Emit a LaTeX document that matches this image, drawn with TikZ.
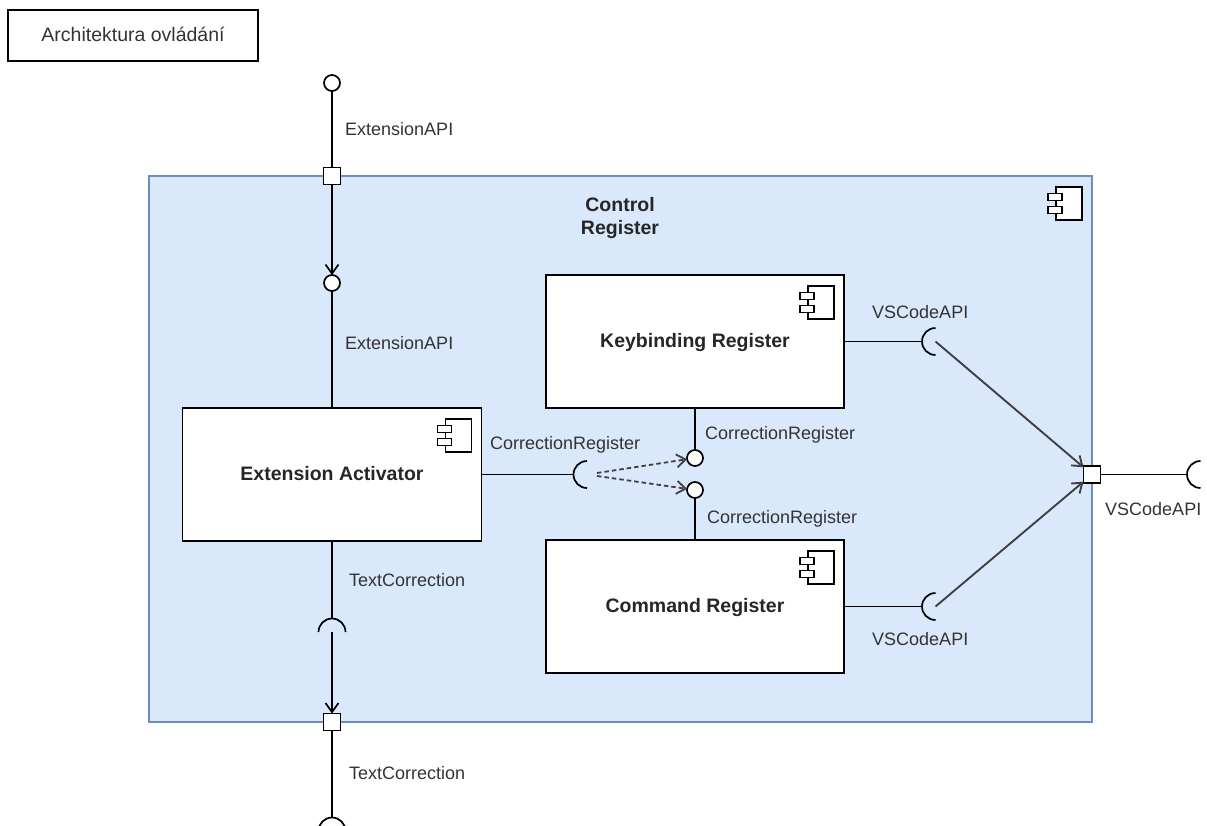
\documentclass[tikz,border=0pt]{standalone}
\usepackage{fontspec}
\setmainfont{Liberation Sans}
\usetikzlibrary{arrows.meta}

\definecolor{regfill}{HTML}{DAE8FC}
\definecolor{regline}{HTML}{6C8EBF}

\tikzset{
  lbl/.style={anchor=base west, inner sep=0pt, text=black!80,
    font=\fontsize{18}{21}\selectfont},
  titlebox/.style={draw=black, line width=1.7pt, minimum width=250pt,
    minimum height=51pt, inner sep=0pt, text height=13pt, text depth=1pt,
    text=black!80, font=\fontsize{19.5}{22}\selectfont},
  regbox/.style={draw=regline, fill=regfill, line width=1.7pt,
    minimum width=943pt, minimum height=546pt, inner sep=0pt},
  regtitle/.style={align=center, inner sep=0pt, text=black!85,
    font=\bfseries\fontsize{19.5}{23}\selectfont},
  compbox/.style={draw=black, fill=white, line width=1.7pt,
    minimum width=299pt, minimum height=133pt, inner sep=0pt,
    text height=14pt, text depth=3pt, text=black!85,
    font=\bfseries\fontsize{19.5}{23}\selectfont},
  port/.style={draw=black, fill=white, line width=1.7pt,
    minimum size=17pt, inner sep=0pt, outer sep=0pt},
  lolli/.style={circle, draw=black, fill=white, line width=1.7pt,
    minimum size=16pt, inner sep=0pt, outer sep=0pt},
  sock/.style={circle, minimum size=27pt, inner sep=0pt, outer sep=0pt},
  wire/.style={draw=black, line width=1.7pt},
  barb/.style={-{Straight Barb[length=9pt,width=13pt]}},
  dep/.style={draw=black!75, line width=1.8pt, dash pattern=on 4.5pt off 3pt, barb},
  deleg/.style={draw=black!75, line width=1.9pt, barb},
  socketline/.style={draw=black, line width=1.7pt},
  compicon/.pic={
    \draw[fill=white, line width=1.5pt] (-37,12) rectangle (-11,45);
    \draw[fill=white, line width=1.5pt] (-45,18.5) rectangle (-31,25.5);
    \draw[fill=white, line width=1.5pt] (-45,31.5) rectangle (-31,38.5);
  },
}

\begin{document}
\begin{tikzpicture}[x=1pt, y=-1pt]
\useasboundingbox (0,0) rectangle (1207,825);

% title
\node[titlebox] (title) at (133,35.5) {Architektura ovládání};

% the Control Register component
\node[regbox] (ctrl) at (620.5,449) {};
\node[regtitle] (ctrltitle) at (620,218) {Control\\Register};
\pic at (ctrl.north east) {compicon};

% inner components
\node[compbox] (act) at (332,474.5) {Extension Activator};
\pic at (act.north east) {compicon};
\node[compbox, minimum width=298pt] (kb) at (695,341.5) {Keybinding Register};
\pic at (kb.north east) {compicon};
\node[compbox, minimum width=298pt] (cmd) at (695,606.5) {Command Register};
\pic at (cmd.north east) {compicon};

% ports on the border
\node[port] (ptop) at (332,176) {};
\node[port] (pbot) at (332,722) {};
\node[port] (pr) at (1092,474.5) {};

% provided interfaces
\node[lolli] (loltop) at (332,83) {};
\node[lolli] (lolact) at (332,283) {};
\node[lolli] (lolkb) at (695,458) {};
\node[lolli] (lolcmd) at (695,490) {};

% required interfaces
\node[sock] (sact) at (587,474.5) {};
\node[sock] (stext) at (332,632) {};
\node[sock] (sbot) at (332,831) {};
\node[sock] (skb) at (935.5,341.5) {};
\node[sock] (scmd) at (935.5,606.5) {};
\node[sock] (sr) at (1200.5,474.5) {};

% connectors
\draw[wire] (loltop) -- (ptop);
\draw[wire, barb] (ptop) -- (lolact);
\draw[wire] (lolact) -- (act);
\draw[wire] (act) -- (stext);
\draw[wire, barb] (stext.center) -- (pbot);
\draw[wire] (pbot) -- (sbot);
\draw[wire] (act) -- (sact);
\draw[wire] (kb) -- (lolkb);
\draw[wire] (lolcmd) -- (cmd);
\draw[wire] (kb.east |- skb) -- (skb);
\draw[wire] (cmd.east |- scmd) -- (scmd);
\draw[wire] (pr) -- (sr);
\draw[dep] ([xshift=10pt,yshift=1.5pt]sact.center) -- (lolkb);
\draw[dep] ([xshift=10pt,yshift=-1.5pt]sact.center) -- (lolcmd);
\draw[deleg] (skb.center) -- (pr);
\draw[deleg] (scmd.center) -- (pr);

% socket arcs
\draw[socketline] (sact.north) arc[start angle=90, end angle=270, radius=13.5pt];
\draw[socketline] (skb.north) arc[start angle=90, end angle=270, radius=13.5pt];
\draw[socketline] (scmd.north) arc[start angle=90, end angle=270, radius=13.5pt];
\draw[socketline] (sr.north) arc[start angle=90, end angle=270, radius=13.5pt];
\draw[socketline] (stext.west) arc[start angle=180, end angle=0, radius=13.5pt];
\draw[socketline] (sbot.west) arc[start angle=180, end angle=0, radius=13.5pt];

% interface labels
\node[lbl] (l1) at (345,135) {ExtensionAPI};
\node[lbl] (l2) at (345,349) {ExtensionAPI};
\node[lbl] (l3) at (349,586) {TextCorrection};
\node[lbl] (l4) at (349,779) {TextCorrection};
\node[lbl] (l5) at (490,449) {CorrectionRegister};
\node[lbl] (l6) at (705,439) {CorrectionRegister};
\node[lbl] (l7) at (707,523) {CorrectionRegister};
\node[lbl] (l8) at (872,318) {VSCodeAPI};
\node[lbl] (l9) at (872,645) {VSCodeAPI};
\node[lbl] (l10) at (1105,515) {VSCodeAPI};
\end{tikzpicture}
\end{document}
